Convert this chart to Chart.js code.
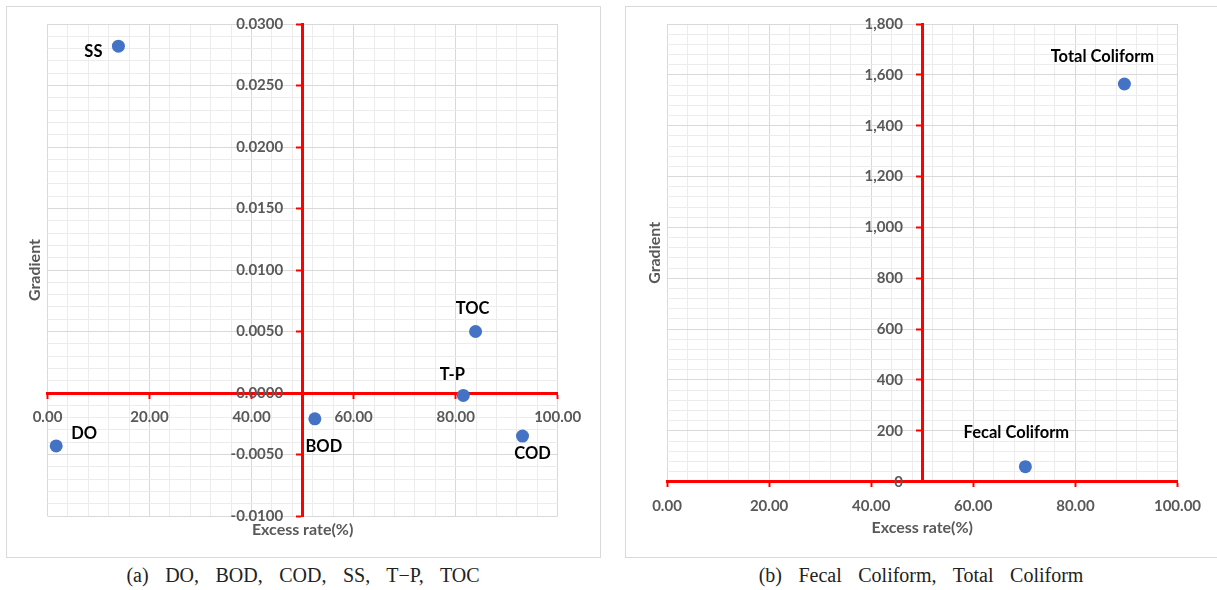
<!DOCTYPE html>
<html><head><meta charset="utf-8">
<script src="https://cdn.jsdelivr.net/npm/chart.js@4.4.1/dist/chart.umd.min.js"></script>
<style>
html,body{margin:0;padding:0;background:#fff;width:1217px;height:590px;overflow:hidden;position:relative;}
.box{position:absolute;border:1px solid #d9d9d9;box-sizing:border-box;}
.cv{position:absolute;}
.cap{position:absolute;font-family:"Liberation Serif",serif;font-size:20px;color:#222;text-align:center;word-spacing:11.5px;white-space:nowrap;line-height:24px;}
</style></head><body>
<div class="box" style="left:6px;top:6px;width:595px;height:552px"></div>
<div class="box" style="left:625px;top:6px;width:600px;height:552px"></div>
<div class="cv" style="left:6px;top:6px;width:594px;height:551px"><canvas id="ca"></canvas></div>
<div class="cv" style="left:625px;top:6px;width:592px;height:551px"><canvas id="cb"></canvas></div>
<div class="cap" style="left:6px;width:594px;top:563px">(a) DO, BOD, COD, SS, T−P, TOC</div>
<div class="cap" style="left:625px;width:592px;top:563px">(b) Fecal Coliform, Total Coliform</div>
<script>
// ---- data ----
const labelsA = ['SS', 'DO', 'BOD', 'T-P', 'TOC', 'COD'];
const excessA = [13.9, 1.7, 52.4, 81.5, 83.9, 93.1];
const gradientA = [0.0282, -0.0043, -0.0021, -0.0002, 0.0050, -0.0035];
const labelsB = ['Total Coliform', 'Fecal Coliform'];
const excessB = [89.6, 70.2];
const gradientB = [1564, 59];
const xTickValues = [0, 20, 40, 60, 80, 100];
const yTickValuesA = [-0.01, -0.005, 0, 0.005, 0.01, 0.015, 0.02, 0.025, 0.03];
const yTickValuesB = [0, 200, 400, 600, 800, 1000, 1200, 1400, 1600, 1800];
// label placement relative to each point (px)
const labelOffsetA = [[-25, 6], [28, -12], [9, 28], [-11, -21], [-3, -23], [10, 18]];
const labelOffsetB = [[-22, -27], [-9, -34]];

const near = (v, list, tol) => list.some(t => Math.abs(v - t) < tol);
function stepTicks(min, max, step) {
  const out = [];
  const n = Math.round((max - min) / step);
  for (let i = 0; i <= n; i++) out.push({value: Math.round((min + i * step) * 1e6) / 1e6});
  return out;
}

const pointLabels = {
  id: 'pointLabels',
  afterDatasetsDraw(chart, args, opts) {
    const ctx = chart.ctx;
    const meta = chart.getDatasetMeta(0);
    ctx.save();
    ctx.font = 'bold 16.5px Lato';
    ctx.fillStyle = '#000';
    ctx.textAlign = 'center';
    ctx.textBaseline = 'middle';
    meta.data.forEach((pt, i) => {
      const o = opts.offsets[i];
      ctx.fillText(opts.labels[i], pt.x + o[0], pt.y + o[1]);
    });
    ctx.restore();
  }
};
const axisTitles = {
  id: 'axisTitles',
  afterDraw(chart, args, opts) {
    const ctx = chart.ctx, a = chart.chartArea;
    ctx.save();
    ctx.font = 'bold 16px Lato';
    ctx.fillStyle = '#595959';
    ctx.textAlign = 'center';
    ctx.textBaseline = 'middle';
    ctx.fillText(opts.xTitle, chart.scales.x.getPixelForValue(50), opts.xTitleY);
    ctx.translate(opts.yTitleX, (a.top + a.bottom) / 2);
    ctx.rotate(-Math.PI / 2);
    ctx.fillText(opts.yTitle, 0, 0);
    ctx.restore();
  }
};

function makeChart(id, xs, ys, labels, offsets, yMin, yMax, yStep, yMajors, yFmt, pad, xTitleY, yTitleX) {
  const tickFont = {family: 'Lato', size: 15, weight: 'bold'};
  const yTol = yStep / 10;
  return new Chart(document.getElementById(id), {
    type: 'scatter',
    data: {datasets: [{
      data: xs.map((x, i) => ({x: x, y: ys[i]})),
      backgroundColor: '#4472C4', borderWidth: 0, pointRadius: 6.5, pointHoverRadius: 6.5
    }]},
    options: {
      responsive: true, maintainAspectRatio: false, animation: false,
      layout: {padding: pad},
      plugins: {legend: {display: false}, tooltip: {enabled: false},
        pointLabels: {labels: labels, offsets: offsets},
        axisTitles: {xTitle: 'Excess rate(%)', yTitle: 'Gradient', xTitleY: xTitleY, yTitleX: yTitleX}},
      scales: {
        x: {type: 'linear', min: 0, max: 100, position: {y: 0},
          afterBuildTicks: s => { s.ticks = stepTicks(0, 100, 4); },
          ticks: {display: false},
          grid: {color: c => near(c.tick.value, xTickValues, 0.01) ? '#d9d9d9' : '#ececec',
            tickColor: c => near(c.tick.value, xTickValues, 0.01) ? '#ff0000' : 'rgba(0,0,0,0)',
            tickLength: 4, tickWidth: 2, lineWidth: 1},
          border: {color: '#ff0000', width: 3}},
        xLabels: {type: 'linear', axis: 'x', min: 0, max: 100, position: {y: 0},
          afterBuildTicks: s => { s.ticks = xTickValues.map(v => ({value: v})); },
          ticks: {autoSkip: false, maxRotation: 0, font: tickFont, color: '#595959', padding: 7,
            callback: v => v.toFixed(2)},
          grid: {display: false}, border: {display: false}},
        y: {type: 'linear', min: yMin, max: yMax, position: {x: 50},
          afterBuildTicks: s => { s.ticks = stepTicks(yMin, yMax, yStep); },
          ticks: {display: false},
          grid: {color: c => Math.abs(c.tick.value) < yTol ? 'rgba(0,0,0,0)' : (near(c.tick.value, yMajors, yTol) ? '#d9d9d9' : '#ececec'),
            tickColor: c => near(c.tick.value, yMajors, yTol) ? '#ff0000' : 'rgba(0,0,0,0)',
            tickLength: 5, tickWidth: 2, lineWidth: 1},
          border: {color: '#ff0000', width: 3}},
        yLabels: {type: 'linear', axis: 'y', min: yMin, max: yMax, position: {x: 46.2},
          afterBuildTicks: s => { s.ticks = yMajors.map(v => ({value: v})); },
          ticks: {autoSkip: false, font: tickFont, color: '#595959', callback: v => yFmt(v)},
          grid: {display: false}, border: {display: false}}
      }
    },
    plugins: [pointLabels, axisTitles]
  });
}

makeChart('ca', excessA, gradientA, labelsA, labelOffsetA, -0.01, 0.03, 0.001, yTickValuesA,
  v => v.toFixed(4), {left: 41.5, top: 18, right: 42.3, bottom: 41}, 524, 29);
makeChart('cb', excessB, gradientB, labelsB, labelOffsetB, 0, 1800, 40, yTickValuesB,
  v => Math.round(v).toLocaleString('en-US'), {left: 42, top: 18, right: 39.5, bottom: 75.3}, 522, 30);
</script>
</body></html>
